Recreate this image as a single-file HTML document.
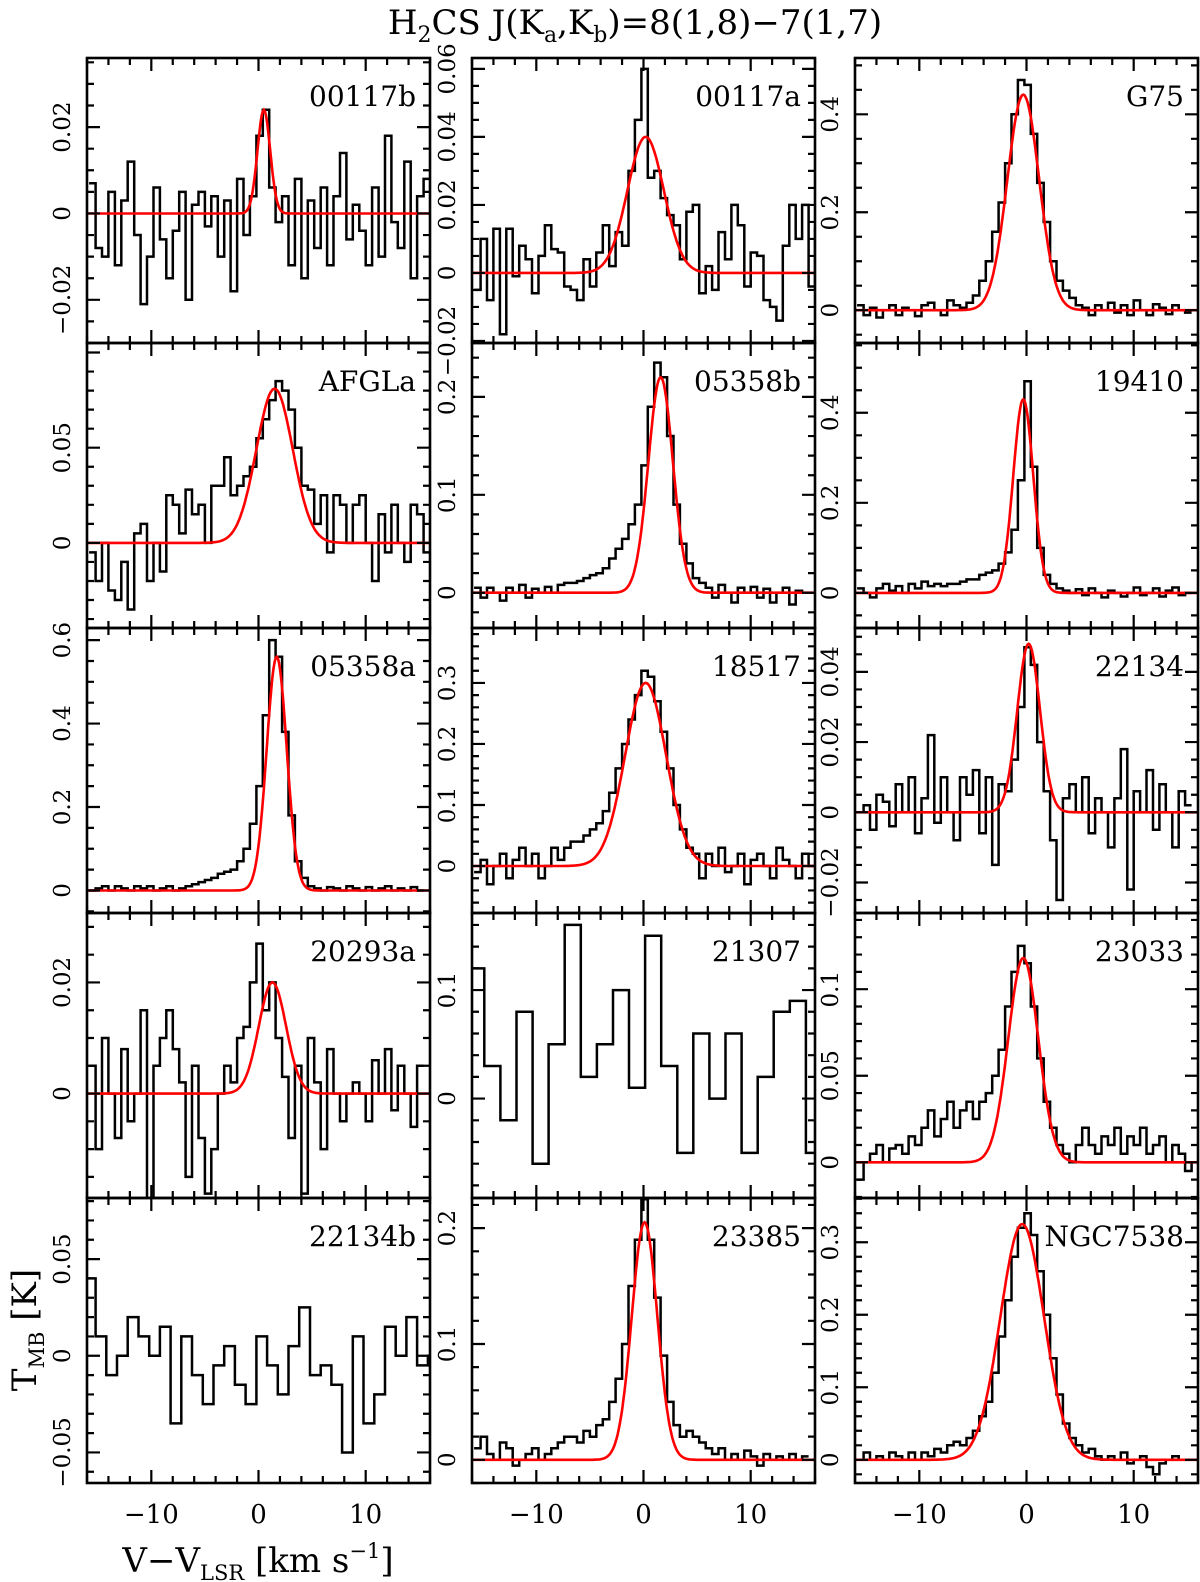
<!DOCTYPE html>
<html><head><meta charset="utf-8"><style>
html,body{margin:0;padding:0;background:#fff}
svg{display:block}
text{font-family:"DejaVu Serif","Liberation Serif",serif;fill:#000}
</style></head><body>
<svg id="chart" width="1200" height="1582" viewBox="0 0 1200 1582" xmlns="http://www.w3.org/2000/svg">
<text x="635" y="34" font-size="34" text-anchor="middle">H<tspan font-size="22" dy="8">2</tspan><tspan dy="-8">CS  J(K</tspan><tspan font-size="22" dy="8">a</tspan><tspan dy="-8">,K</tspan><tspan font-size="22" dy="8">b</tspan><tspan dy="-8">)=8(1,8)−7(1,7)</tspan></text>
<text transform="translate(36,1330) rotate(-90)" font-size="34" text-anchor="middle">T<tspan font-size="21" dy="8">MB</tspan><tspan dy="-8"> [K]</tspan></text>
<text x="258" y="1572" font-size="34" text-anchor="middle">V−V<tspan font-size="21" dy="8">LSR</tspan><tspan dy="-8"> [km s</tspan><tspan font-size="21" dy="-14">−1</tspan><tspan dy="14">]</tspan></text>
<g id="panels"></g>
</svg>
<script>
const xTicks = [-10, 0, 10];
const names = ["00117b","00117a","G75","AFGLa","05358b","19410","05358a","18517","22134","20293a","21307","23033","22134b","23385","NGC7538"];
const yMin = [-0.030,-0.0206,-0.067,-0.0447,-0.036,-0.078,-0.054,-0.077,-0.0287,-0.0188,-0.0916,-0.0206,-0.0658,-0.020,-0.032];
const yMax = [0.036,0.0632,0.515,0.105,0.255,0.555,0.629,0.39,0.0525,0.0325,0.171,0.144,0.0816,0.226,0.361];
const yTicks = [[-0.02,0,0.02],[-0.02,0,0.02,0.04,0.06],[0,0.2,0.4],[0,0.05],[0,0.1,0.2],[0,0.2,0.4],[0,0.2,0.4,0.6],[0,0.1,0.2,0.3],[-0.02,0,0.02,0.04],[0,0.02],[0,0.1],[0,0.05,0.1],[-0.05,0,0.05],[0,0.1,0.2],[0,0.1,0.2,0.3]];
const yTickLabels = [["−0.02","0","0.02"],["−0.02","0","0.02","0.04","0.06"],["0","0.2","0.4"],["0","0.05"],["0","0.1","0.2"],["0","0.2","0.4"],["0","0.2","0.4","0.6"],["0","0.1","0.2","0.3"],["−0.02","0","0.02","0.04"],["0","0.02"],["0","0.1"],["0","0.05","0.1"],["−0.05","0","0.05"],["0","0.1","0.2"],["0","0.1","0.2","0.3"]];
const yMajor = [0.02,0.02,0.2,0.05,0.1,0.2,0.2,0.1,0.02,0.02,0.1,0.05,0.05,0.1,0.1];
const chanStart = [-15.5,-15.5,-15.5,-15.5,-15.5,-15.5,-15.5,-15.5,-15.5,-15.5,-15.6,-15.5,-15.7,-15.5,-15.5];
const chanWidth = [0.6,0.6,0.6,0.6,0.6,0.6,0.6,0.6,0.6,0.6,1.5,0.6,1.0,0.6,0.6];
// Gaussian fit parameters: amplitude, centre, fwhm (null = no fit)
const fitAmp = [0.024,0.040,0.44,0.081,0.22,0.43,0.56,0.30,0.048,0.020,null,0.118,null,0.205,0.325];
const fitCen = [0.5,0.2,-0.3,1.5,1.6,-0.3,1.7,0.2,0.2,1.3,null,-0.3,null,0.1,-0.4];
const fitFwhm = [1.4,4.0,3.5,4.0,2.7,2.2,2.2,4.5,2.5,3.0,null,3.3,null,2.8,4.8];

const d00117b = [0.007,-0.008,-0.01,0.005,-0.012,0.003,0.012,-0.005,-0.021,-0.01,0.006,-0.006,-0.015,-0.004,0.005,-0.02,0.002,0.005,-0.003,0.004,-0.01,0.003,-0.018,0.008,-0.005,0.004,0.018,0.024,0.006,-0.002,0.004,-0.012,0.008,-0.015,0.003,-0.008,0.006,-0.012,0.004,0.014,-0.006,0.002,-0.004,-0.012,0.006,-0.01,0.018,-0.002,-0.008,0.012,-0.015,0.004,0.008];
const d00117a = [-0.005,0.01,-0.008,0.013,-0.018,0.013,-0.001,0.008,0.004,-0.006,0.005,0.014,0.007,0.006,-0.004,-0.005,-0.008,0.004,-0.004,0.006,0.014,0.002,0.012,0.008,0.03,0.045,0.06,0.028,0.03,0.022,0.017,0.014,0.004,0.018,0.02,-0.006,0.002,-0.005,0.012,0.004,0.02,0.014,-0.004,0.006,0.005,-0.008,-0.01,-0.014,0.008,0.02,0.01,0.02,-0.004,0.013];
const dG75 = [0.01,-0.01,0.005,-0.015,0.0,0.01,-0.01,0.005,0.0,-0.012,0.01,0.015,0.0,-0.01,0.02,0.01,0.005,0.015,0.03,0.06,0.10,0.16,0.22,0.30,0.40,0.47,0.46,0.36,0.26,0.18,0.10,0.06,0.04,0.025,0.01,0.005,-0.01,0.01,0,0.015,-0.005,0.01,-0.01,0.02,0,-0.01,0.012,0.005,-0.008,0.01,0,-0.005];
const dAFGLa = [-0.005,-0.02,0.0,-0.025,-0.03,-0.01,-0.035,0.005,0.01,-0.02,0.0,-0.015,0.025,0.02,0.005,0.028,0.015,0.02,0.0,0.03,0.03,0.045,0.025,0.03,0.035,0.04,0.055,0.065,0.075,0.085,0.08,0.07,0.05,0.03,0.028,0.01,0.025,-0.005,0.025,0.02,0.0,0.02,0.025,0.0,-0.02,0.015,-0.005,0.02,0.0,-0.01,0.02,0.015,-0.005];
const d05358b = [0.005,-0.005,0.005,0.0,-0.008,0.005,0.0,0.008,-0.005,0.004,0.0,0.006,0.0,0.008,0.01,0.01,0.012,0.015,0.018,0.02,0.025,0.035,0.045,0.055,0.07,0.09,0.13,0.19,0.235,0.22,0.16,0.09,0.05,0.03,0.015,0.01,0.005,-0.005,0.008,0.0,-0.01,0.005,0.0,0.006,-0.005,0.004,-0.01,0.0,0.005,-0.012,0.002,0.0,0.0];
const d19410 = [0.01,0.0,-0.01,0.01,0.02,0.005,0.015,0.0,0.02,0.01,0.025,0.015,0.02,0.015,0.02,0.02,0.025,0.03,0.03,0.04,0.045,0.05,0.065,0.09,0.14,0.25,0.47,0.28,0.1,0.04,0.02,0.01,0.005,0.0,0.008,-0.005,0.01,0.0,-0.01,0.005,0.0,-0.008,0.0,0.012,-0.005,0.0,0.01,-0.008,0.005,0.012,-0.005,0.0];
const d05358a = [0.0,0.005,0.01,0.0,0.01,0.005,0.0,0.01,0.005,0.01,0.0,0.005,0.01,0.0,0.005,0.01,0.015,0.02,0.025,0.03,0.04,0.045,0.05,0.07,0.1,0.16,0.25,0.42,0.6,0.56,0.38,0.18,0.07,0.03,0.01,0.005,0.0,0.008,0.005,0.0,0.01,0.005,0.0,0.008,0.0,0.005,0.01,0.0,0.005,0.0,0.008,0.0];
const d18517 = [-0.01,0.01,-0.03,0.0,0.02,-0.02,0.01,0.03,0.0,0.02,-0.02,0.0,0.03,0.01,0.03,0.04,0.04,0.05,0.06,0.07,0.09,0.12,0.16,0.2,0.24,0.28,0.32,0.31,0.27,0.22,0.16,0.1,0.06,0.03,0.02,-0.02,0.02,0.0,0.03,-0.01,0.0,0.02,-0.03,0.01,0.02,0.0,-0.02,0.03,0.01,0.0,-0.02,0.02,0.0];
const d22134 = [0.0,0.002,-0.005,0.005,0.003,-0.004,0.008,0.0,0.01,-0.006,0.004,0.022,-0.003,0.01,0.0,-0.008,0.01,0.005,0.012,-0.006,0.01,-0.015,0.008,0.006,0.015,0.03,0.047,0.042,0.02,0.006,-0.008,-0.025,0.004,0.008,0.0,0.01,-0.006,0.004,0.0,-0.01,0.004,0.018,-0.022,0.006,0.0,0.012,-0.005,0.008,0.0,-0.01,0.006,0.002];
const d20293a = [0.005,-0.01,0.01,0.0,-0.008,0.008,-0.005,0.0,0.015,-0.02,0.005,0.01,0.015,0.008,0.002,-0.015,0.005,-0.008,-0.018,-0.01,0.0,0.005,0.002,0.01,0.012,0.02,0.027,0.015,0.02,0.01,0.003,-0.008,0.005,-0.018,0.01,0.002,-0.01,0.008,0.0,-0.005,0.0,0.002,0.0,-0.005,0.006,0.0,0.008,-0.003,0.005,0.0,-0.006,0.005];
const d21307 = [0.12,0.03,-0.02,0.08,-0.06,0.05,0.16,0.02,0.05,0.1,0.01,0.15,0.03,-0.05,0.06,0.0,0.06,-0.05,0.02,0.08,0.09,-0.05];
const d23033 = [-0.01,0.0,0.005,0.01,0.0,0.008,0.01,0.005,0.015,0.01,0.02,0.03,0.015,0.025,0.035,0.02,0.03,0.035,0.025,0.035,0.04,0.05,0.065,0.09,0.11,0.125,0.115,0.09,0.06,0.035,0.02,0.01,0.005,0.0,0.01,0.02,0.01,0.005,0.015,0.01,0.02,0.005,0.015,0.01,0.02,0.005,0.01,0.015,0.0,0.01,0.005,-0.005,0.0];
const d22134b = [0.04,0.01,-0.01,0.0,0.02,0.01,0.0,0.015,-0.035,0.01,-0.01,-0.025,-0.005,0.005,-0.015,-0.025,0.01,-0.005,-0.02,0.005,0.025,-0.01,-0.005,-0.015,-0.05,0.01,-0.035,-0.02,0.015,0.0,0.02,-0.005,0.0];
const d23385 = [0.01,0.02,0.005,0.0,0.015,0.01,-0.005,0.0,0.005,0.01,0.0,0.005,0.01,0.015,0.02,0.02,0.015,0.025,0.02,0.03,0.035,0.05,0.07,0.1,0.15,0.19,0.225,0.19,0.14,0.09,0.05,0.03,0.02,0.025,0.02,0.015,0.01,0.005,0.01,0.0,0.005,0.0,0.008,0.003,-0.005,0.005,0.0,0.003,0.0,0.005,0.0,0.003];
const dNGC7538 = [0.0,0.01,0.0,0.005,0.0,0.01,0.005,0.0,0.01,0.0,0.01,0.005,0.015,0.01,0.02,0.025,0.02,0.03,0.04,0.06,0.08,0.12,0.17,0.22,0.28,0.32,0.34,0.31,0.26,0.2,0.14,0.09,0.05,0.03,0.02,0.01,0.015,0.005,0.0,0.005,0.0,0.01,-0.005,0.0,0.005,-0.01,-0.02,-0.005,0.0,0.005,0.0];
const spectra = [d00117b,d00117a,dG75,dAFGLa,d05358b,d19410,d05358a,d18517,d22134,d20293a,d21307,d23033,d22134b,d23385,dNGC7538];

const NS = "http://www.w3.org/2000/svg";
const colLeft = [87, 472, 855], rowTop = [58, 343, 628, 913, 1198];
const PW = 343, PH = 285, XMIN = -16, XMAX = 16;
const root = document.getElementById('panels');
function mk(tag, attrs, parent){const e=document.createElementNS(NS,tag);for(const k in attrs)e.setAttribute(k,attrs[k]);(parent||root).appendChild(e);return e;}

names.forEach((nm, p) => {
  const col = p % 3, row = Math.floor(p / 3);
  const L = colLeft[col], T = rowTop[row], R = L + PW, B = T + PH;
  const sx = v => L + (v - XMIN) / (XMAX - XMIN) * PW;
  const sy = v => B - (v - yMin[p]) / (yMax[p] - yMin[p]) * PH;
  const g = mk('g', {});
  
  
  const cp = mk('clipPath', {id: 'cp' + p}, g);
  mk('rect', {x: L, y: T, width: PW, height: PH}, cp);
  const data = spectra[p], w = chanWidth[p];
  let d = '';
  data.forEach((v, i) => {
    const c = chanStart[p] + i * w;
    const x0 = sx(c - w / 2), x1 = sx(c + w / 2), y = sy(v);
    d += (i === 0 ? 'M' : 'L') + x0.toFixed(1) + ',' + y.toFixed(1) + 'L' + x1.toFixed(1) + ',' + y.toFixed(1);
  });
  const sp = mk('path', {d: d, fill: 'none', stroke: '#000', 'stroke-width': 2.5, 'clip-path': 'url(#cp' + p + ')'}, g);
  
  
  if (fitAmp[p] !== null) {
    const s = fitFwhm[p] / 2.3548;
    let fd = '';
    for (let k = 0; k <= 320; k++) {
      const v = XMIN + k * (XMAX - XMIN) / 320;
      const y = fitAmp[p] * Math.exp(-((v - fitCen[p]) ** 2) / (2 * s * s));
      fd += (k ? 'L' : 'M') + sx(v).toFixed(1) + ',' + sy(y).toFixed(1);
    }
    const fp = mk('path', {d: fd, fill: 'none', stroke: '#f00', 'stroke-width': 2.6, 'clip-path': 'url(#cp' + p + ')'}, g);
    
    
  }
  const fr = mk('rect', {x: L, y: T, width: PW, height: PH, fill: 'none', stroke: '#000', 'stroke-width': 2.6}, g);
  
  
  let td = '';
  for (let v = -16; v <= 16; v += 2) {
    const x = sx(v), len = (v % 10 === 0) ? 13 : 7;
    td += `M${x},${B}v${-len}M${x},${T}v${len}`;
  }
  const maj = yMajor[p];
  const sub = (Math.abs(maj / Math.pow(10, Math.floor(Math.log10(maj))) - 2) < 1e-6) ? 4 : 5;
  const mn = maj / sub;
  for (let k = Math.ceil(yMin[p] / mn - 1e-6); k * mn <= yMax[p] + 1e-9; k++) {
    const v = k * mn, y = sy(v), len = (k % sub === 0) ? 13 : 7;
    td += `M${L},${y}h${len}M${R},${y}h${-len}`;
  }
  const tk = mk('path', {d: td, stroke: '#000', 'stroke-width': 2.2, fill: 'none'}, g);
  
  
  yTicks[p].forEach((v, i) => {
    const t = mk('text', {transform: `translate(${L - 17},${sy(v)}) rotate(-90)`, 'font-size': 23, 'text-anchor': 'middle'}, g);
    
    
    t.textContent = yTickLabels[p][i];
  });
  if (row === 4) {
    xTicks.forEach(v => {
      const t = mk('text', {x: sx(v), y: B + 40, 'font-size': 26, 'text-anchor': 'middle'}, g);
      
      
      t.textContent = v < 0 ? '−' + Math.abs(v) : String(v);
    });
  }
  const lb = mk('text', {x: R - 14, y: T + 48, 'font-size': 28, 'text-anchor': 'end'}, g);
  
  
  lb.textContent = nm;
});
</script>
</body></html>
